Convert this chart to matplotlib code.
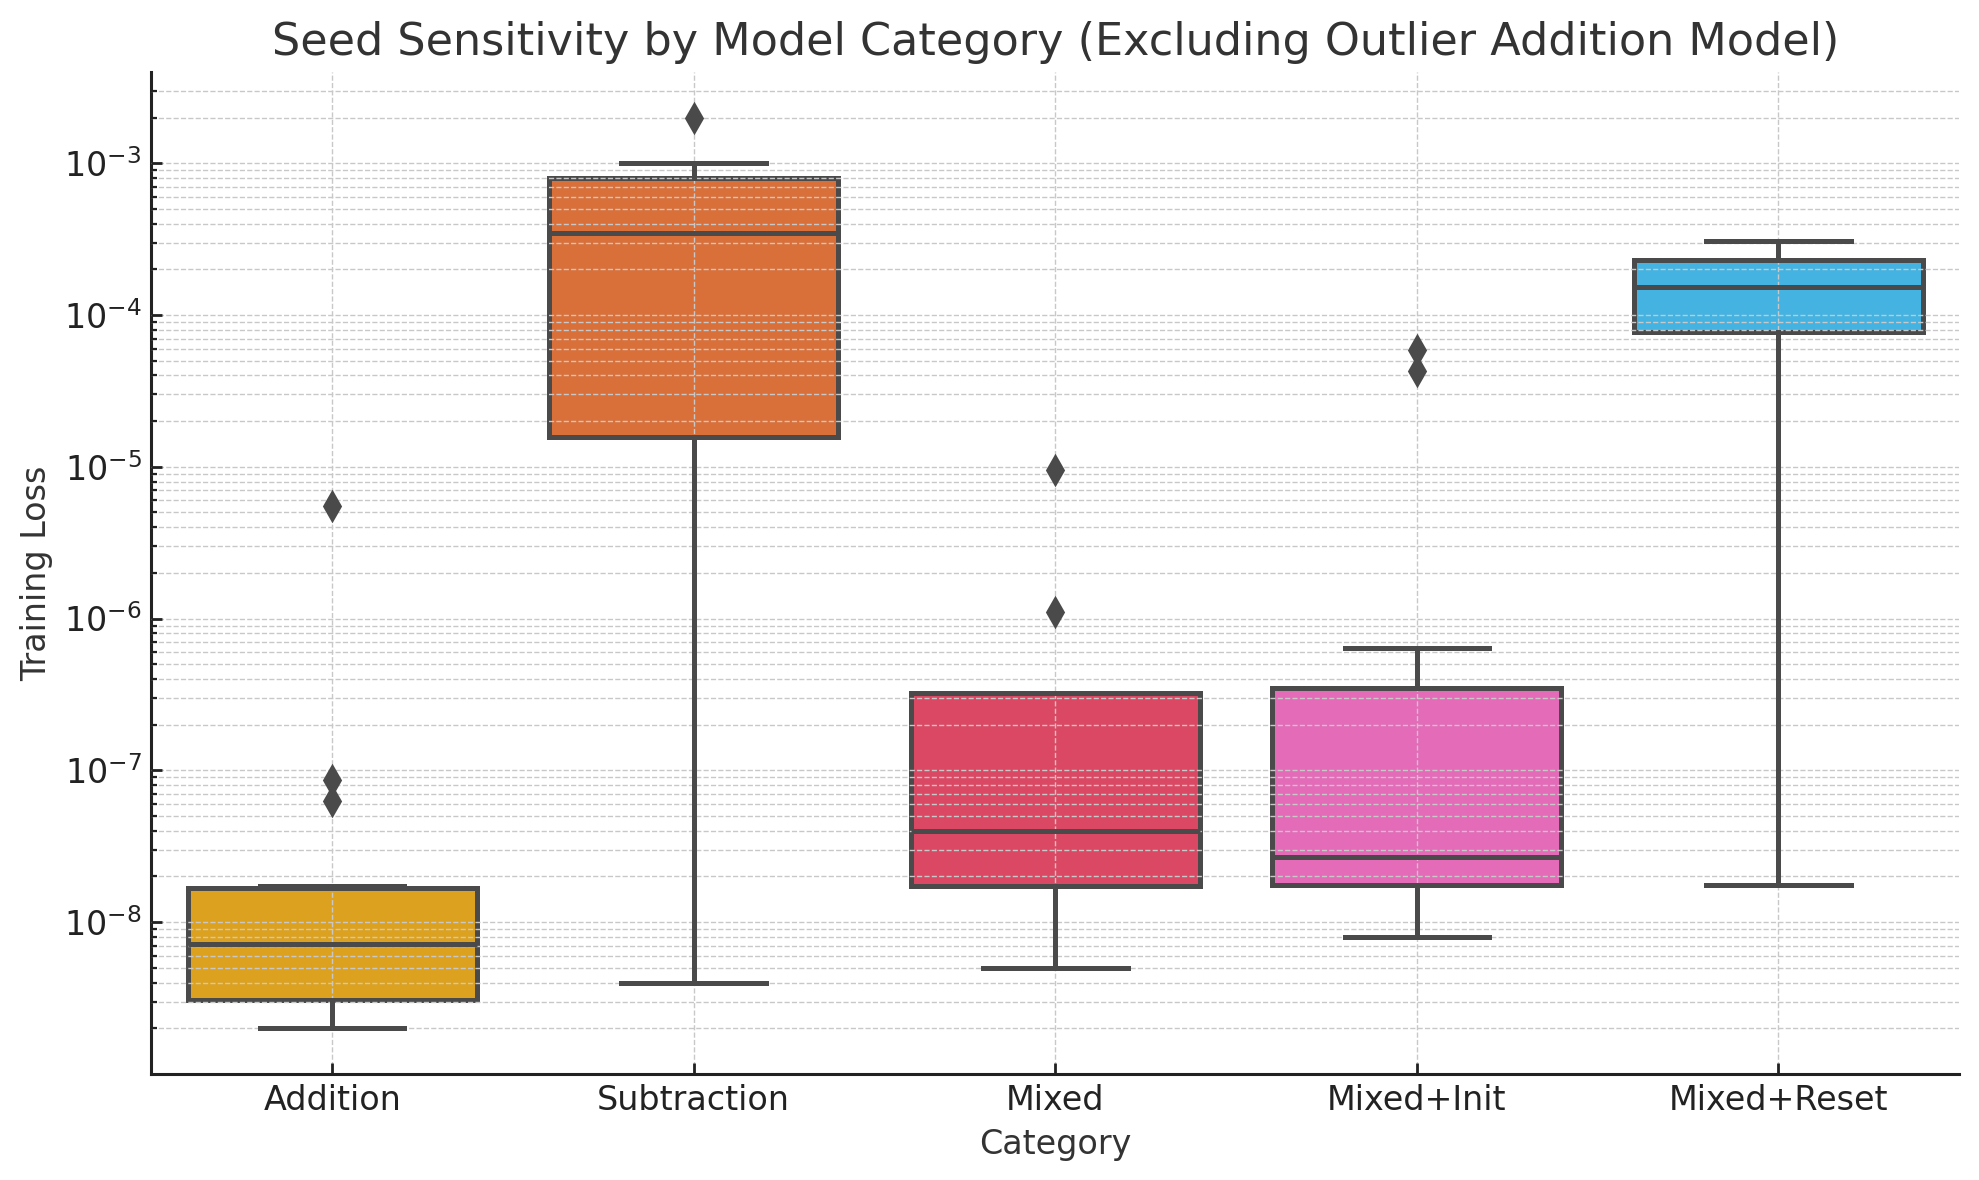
import matplotlib
matplotlib.use("Agg")
import matplotlib.pyplot as plt
from matplotlib.ticker import LogLocator

# ---- data ----
categories = ["Addition", "Subtraction", "Mixed", "Mixed+Init", "Mixed+Reset"]
q1 =      [3.05e-9, 1.58e-5, 1.74e-8, 1.77e-8, 7.7e-5]
medians = [7.2e-9,  3.49e-4, 3.96e-8, 2.7e-8,  1.53e-4]
q3 =      [1.67e-8, 7.95e-4, 3.25e-7, 3.5e-7,  2.29e-4]
whis_lo = [2.0e-9,  4.0e-9,  5.0e-9,  8.0e-9,  1.77e-8]
whis_hi = [1.73e-8, 1.0e-3,  3.25e-7, 6.4e-7,  3.05e-4]
fliers = [
    [5.5e-6, 8.7e-8, 6.3e-8],
    [2.0e-3],
    [9.5e-6, 1.1e-6],
    [5.9e-5, 4.3e-5],
    [],
]
colors = ["#DCA21F", "#D9703A", "#DB4863", "#E46BB8", "#44B3E2"]

title = "Seed Sensitivity by Model Category (Excluding Outlier Addition Model)"
xlabel = "Category"
ylabel = "Training Loss"

line_col = "#4a4a4a"

fig = plt.figure(figsize=(9.895, 5.9), dpi=200)
ax = fig.add_axes([0.0765, 0.09, 0.9135, 0.849])

stats = []
for i, c in enumerate(categories):
    stats.append(dict(label=c, q1=q1[i], med=medians[i], q3=q3[i],
                      whislo=whis_lo[i], whishi=whis_hi[i], fliers=fliers[i]))

bp = ax.bxp(stats, positions=range(len(categories)), widths=0.8,
            patch_artist=True, showfliers=True,
            boxprops=dict(edgecolor=line_col, linewidth=1.8, zorder=1),
            medianprops=dict(color=line_col, linewidth=1.8, zorder=3),
            whiskerprops=dict(color=line_col, linewidth=1.8, zorder=3),
            capprops=dict(color=line_col, linewidth=1.8, zorder=3),
            flierprops=dict(marker="d", markerfacecolor=line_col,
                            markeredgecolor=line_col, markersize=7,
                            linestyle="none", zorder=3),
            capwidths=0.4)
for patch, col in zip(bp["boxes"], colors):
    patch.set_facecolor(col)

ax.set_yscale("log")
ax.set_xlim(-0.5, len(categories) - 0.5)
ax.yaxis.set_major_locator(LogLocator(base=10, numticks=20))
ax.yaxis.set_minor_locator(LogLocator(base=10, subs=range(2, 10), numticks=100))

ax.set_axisbelow(False)
ax.grid(True, which="major", axis="both", linestyle="--", linewidth=0.5, color="#c8c8c8", zorder=2)
ax.grid(True, which="minor", axis="y", linestyle="--", linewidth=0.5, color="#c8c8c8", zorder=2)

for s in ["top", "right"]:
    ax.spines[s].set_visible(False)
for s in ["left", "bottom"]:
    ax.spines[s].set_color("#222222")
    ax.spines[s].set_linewidth(1.1)

ax.tick_params(axis="both", which="both", direction="in", colors="#222222", labelsize=12)
ax.tick_params(axis="both", which="major", length=4, width=1.0)
ax.tick_params(axis="y", which="minor", length=2.2, width=0.8)
ax.set_xticks(range(len(categories)))
ax.set_xticklabels(categories)

ax.set_title(title, fontsize=16, color="#333333")
ax.set_xlabel(xlabel, fontsize=12, color="#333333")
ax.set_ylabel(ylabel, fontsize=12, color="#333333")

fig.savefig("out.png", dpi=200)
